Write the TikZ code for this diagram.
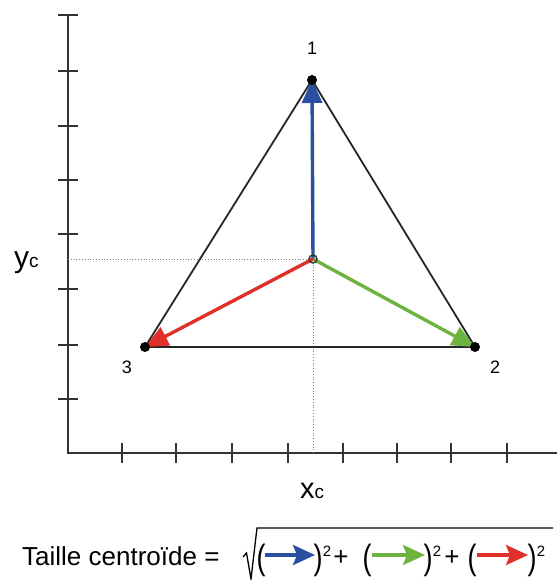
\documentclass[tikz,border=0pt]{standalone}
\usepackage{fontspec}
\setmainfont{Liberation Sans}
\usetikzlibrary{arrows.meta}
\definecolor{axisgray}{HTML}{333333}
\definecolor{cblue}{HTML}{2B4FA0}
\definecolor{cgreen}{HTML}{6DB33F}
\definecolor{cred}{HTML}{E0302A}
\tikzset{
  axisline/.style={line width=2.4pt, draw=axisgray},
  tickline/.style={line width=2pt, draw=axisgray},
  guide/.style={dotted, line width=0.8pt, draw=gray},
  tri/.style={line width=1.8pt, draw=black!85},
  vec/.style={line width=3.4pt, -{Triangle[length=23pt,width=20pt]}},
  fvec/.style={line width=3.6pt, -{Stealth[length=22pt,width=20pt,inset=4pt]}},
  vdot/.style={circle, fill=black, inner sep=0pt, minimum size=10pt},
  lab/.style={font=\fontsize{18}{20}\selectfont, inner sep=0pt},
  big/.style={font=\fontsize{26}{30}\selectfont, inner sep=0pt, anchor=base},
  paren/.style={font=\fontsize{27}{30}\selectfont, inner sep=0pt, anchor=base},
  sq/.style={font=\fontsize{15}{16}\selectfont, inner sep=0pt, anchor=base},
}
\newcommand{\tallpar}[1]{\scalebox{1}[1.3]{#1}}
\begin{document}
\begin{tikzpicture}[x=1pt,y=-1pt]
\useasboundingbox (0,0) rectangle (557,580);
% axes
\coordinate (ytop) at (68,15);
\coordinate (org) at (68,453);
\coordinate (xend) at (557,453);
\draw[axisline] (ytop) -- (org) -- (xend);
\foreach \yy in {15,71,126,180,234,289,345,399}
  \draw[tickline] (58,\yy) -- (78,\yy);
\foreach \xx in {122,176,232,288,343,397,451,507}
  \draw[tickline] (\xx,443) -- (\xx,463);
% vertices and centroid
\coordinate (v1) at (312,80);
\coordinate (v2) at (475,347);
\coordinate (v3) at (145,347);
\coordinate (c) at (313,259);
\coordinate (cy) at (68,259);
\coordinate (cx) at (313,453);
% guides
\draw[guide] (cy) -- (c);
\draw[guide] (c) -- (cx);
% triangle
\draw[tri] (v1) -- (v2) -- (v3) -- cycle;
% vectors
\draw[vec, cblue] (c) -- (v1);
\draw[vec, cgreen] (c) -- (v2);
\draw[vec, cred] (c) -- (v3);
\node[vdot] (d1) at (v1) {};
\node[vdot] (d2) at (v2) {};
\node[vdot] (d3) at (v3) {};
\node[circle, draw=axisgray, line width=1.4pt, inner sep=0pt, minimum size=8pt] (cc) at (c) {};
% labels
\node[lab] (l1) at (312,48) {1};
\node[lab] (l2) at (495,367) {2};
\node[lab] (l3) at (127,367) {3};
\node[inner sep=0pt, anchor=base west] (yc) at (14,267) {\fontsize{30}{32}\selectfont y\fontsize{19}{20}\selectfont c};
\node[inner sep=0pt, anchor=base west] (xc) at (300,498) {\fontsize{29}{32}\selectfont x\fontsize{19}{20}\selectfont c};
% formula
\node[big, anchor=base west] (txt) at (22,565) {Taille centroïde =};
\draw[line width=1.3pt, line join=miter] (243,557) -- (246.5,553) -- (251,579) -- (257,528) -- (553,528);
\node[paren] (p1) at (261,569) {\tallpar{(}};
\coordinate (b1) at (265,555); \coordinate (b2) at (315,555);
\draw[fvec, cblue] (b1) -- (b2);
\node[paren] (q1) at (318,569) {\tallpar{)}};
\node[sq] (s1) at (327,556) {2};
\node[big] (plus1) at (341,565) {+};
\node[paren] (p2) at (367,569) {\tallpar{(}};
\coordinate (g1) at (372,555); \coordinate (g2) at (425,555);
\draw[fvec, cgreen] (g1) -- (g2);
\node[paren] (q2) at (428,569) {\tallpar{)}};
\node[sq] (s2) at (437,556) {2};
\node[big] (plus2) at (452,565) {+};
\node[paren] (p3) at (472,569) {\tallpar{(}};
\coordinate (r1) at (477,555); \coordinate (r2) at (528,555);
\draw[fvec, cred] (r1) -- (r2);
\node[paren] (q3) at (532,569) {\tallpar{)}};
\node[sq] (s3) at (541,556) {2};
\end{tikzpicture}
\end{document}
